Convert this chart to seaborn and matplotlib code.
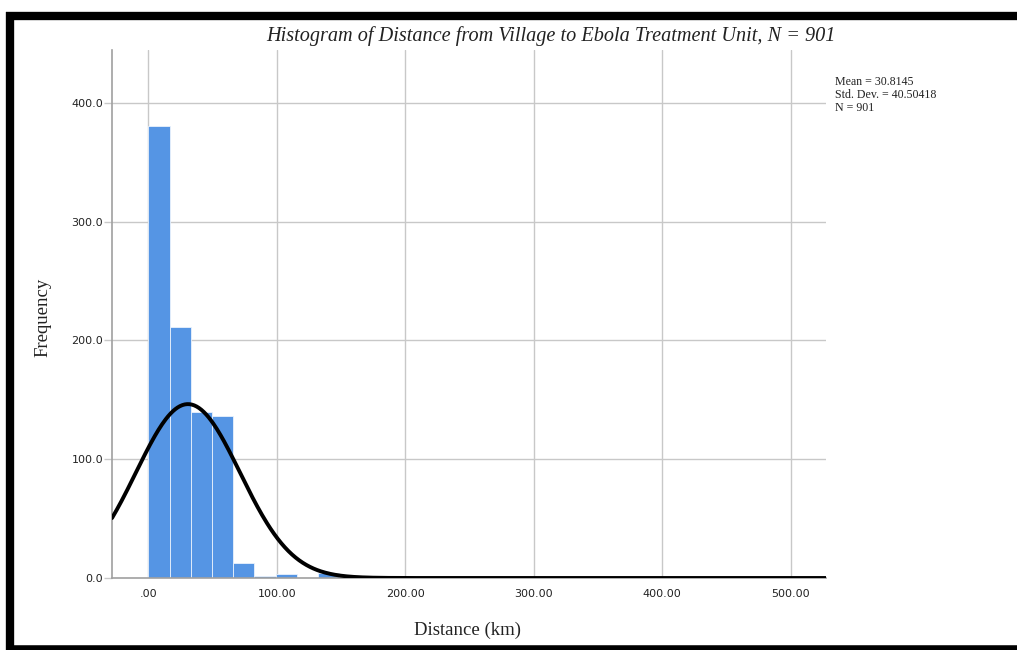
import numpy as np
import pandas as pd
import matplotlib
matplotlib.use("Agg")
import matplotlib.pyplot as plt
import seaborn as sns
from matplotlib.lines import Line2D

# ---- data ----
bin_width = 16.5
bin_starts = [0.0, 16.5, 33.0, 49.5, 66.0, 82.5, 99.0, 115.5, 132.0, 280.5, 396.0]
bin_counts = [381, 211, 140, 136, 13, 2, 3, 0, 4, 1, 1]
mean_val = 30.8145
sd_val = 40.50418
n_val = 901

x_ticks = [0, 100, 200, 300, 400, 500]
x_tick_labels = [".00", "100.00", "200.00", "300.00", "400.00", "500.00"]
y_ticks = [0, 100, 200, 300, 400]
y_tick_labels = ["0.0", "100.0", "200.0", "300.0", "400.0"]

title = "Histogram of Distance from Village to Ebola Treatment Unit, N = 901"
x_label = "Distance (km)"
y_label = "Frequency"
stats_text = "Mean = 30.8145\nStd. Dev. = 40.50418\nN = 901"

sns.set_theme(style="white")
plt.rcParams["font.family"] = ["DejaVu Sans"]

fig = plt.figure(figsize=(10.17, 6.5), dpi=100)
ax = fig.add_axes([112 / 1017, 1 - 578 / 650, (826 - 112) / 1017, (578 - 50) / 650])

xmin, xmax = -28.3, 527.5
ymin, ymax = 0, 444.6

# grid
for t in x_ticks:
    ax.axvline(t, color="#c8c8c8", lw=1.0, zorder=0)
for t in y_ticks[1:]:
    ax.axhline(t, color="#c8c8c8", lw=1.0, zorder=0)

df = pd.DataFrame({"center": np.array(bin_starts) + bin_width / 2, "count": bin_counts})
last_edge = 528.0
edges = list(np.arange(0, last_edge, bin_width)) + [last_edge]
sns.histplot(data=df, x="center", weights="count", bins=edges, ax=ax,
             color="#5595e4", alpha=1.0, edgecolor="#eaf2fc", linewidth=0.6, zorder=2)

# fitted normal curve (SPSS-style)
xs = np.linspace(xmin, xmax, 600)
ys = n_val * bin_width * np.exp(-0.5 * ((xs - mean_val) / sd_val) ** 2) / (sd_val * np.sqrt(2 * np.pi))
sns.lineplot(x=xs, y=ys, ax=ax, color="black", lw=2.8, zorder=3)

ax.set_xlim(xmin, xmax)
ax.set_ylim(ymin, ymax)
ax.set_xticks(x_ticks)
ax.set_xticklabels(x_tick_labels)
ax.set_yticks(y_ticks)
ax.set_yticklabels(y_tick_labels)
ax.tick_params(axis="x", length=0, pad=8, labelsize=8, colors="#222222")
ax.tick_params(axis="y", length=6, width=1, color="#c8c8c8", pad=0.5, labelsize=8, colors="#222222", left=True)
for s in ["top", "right"]:
    ax.spines[s].set_visible(False)
for s in ["left", "bottom"]:
    ax.spines[s].set_color("#a0a0a0")
    ax.spines[s].set_linewidth(1.2)
ax.set_xlabel("")
ax.set_ylabel("")

serif = ["Liberation Serif", "DejaVu Serif"]
fig.text(551 / 1017, 1 - 36 / 650, title, ha="center", va="center",
         fontsize=14.6, style="italic", family=serif, color="#222222")
fig.text(468 / 1017, 1 - 630 / 650, x_label, ha="center", va="center",
         fontsize=13.5, family=serif, color="#222222")
fig.text(43 / 1017, 1 - 317 / 650, y_label, ha="center", va="center",
         fontsize=13.5, family=serif, rotation=90, color="#222222")
fig.text(835 / 1017, 1 - 76 / 650, stats_text, ha="left", va="top",
         fontsize=8.6, family=serif, color="#222222", linespacing=1.12)

# outer black frame (left, top, bottom)
fig.add_artist(Line2D([10 / 1017, 10 / 1017], [0, 1 - 12 / 650], transform=fig.transFigure,
                      color="black", lw=6, solid_capstyle="butt"))
fig.add_artist(Line2D([6 / 1017, 1.0], [1 - 16 / 650, 1 - 16 / 650], transform=fig.transFigure,
                      color="black", lw=6, solid_capstyle="butt"))
fig.add_artist(Line2D([6 / 1017, 1.0], [1 - 648 / 650, 1 - 648 / 650], transform=fig.transFigure,
                      color="black", lw=4, solid_capstyle="butt"))

fig.savefig("out.png", dpi=100, facecolor="white")
